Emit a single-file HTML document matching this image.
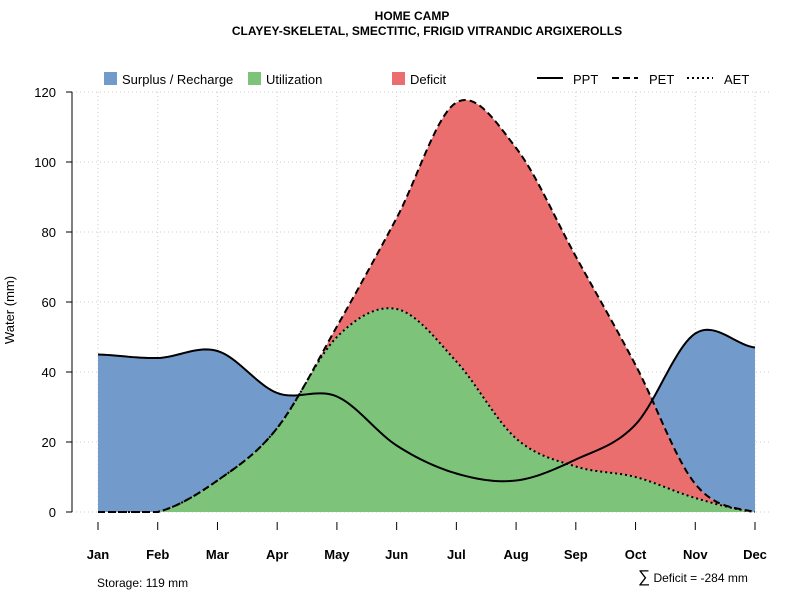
<!DOCTYPE html>
<html><head><meta charset="utf-8"><style>
body{margin:0;background:#fff;font-family:"Liberation Sans",sans-serif}
</style></head><body>
<svg id="c" width="800" height="600" xmlns="http://www.w3.org/2000/svg" font-family="Liberation Sans, sans-serif">
<text x="412" y="20" text-anchor="middle" font-size="12" font-weight="bold">HOME CAMP</text>
<text x="427" y="35" text-anchor="middle" font-size="12" font-weight="bold">CLAYEY-SKELETAL, SMECTITIC, FRIGID VITRANDIC ARGIXEROLLS</text>
<g id="grid"></g>
<g id="areas"></g>
<g id="lines"></g>
<g id="axes"></g>
<g font-size="13">
<rect x="104" y="72" width="13" height="13" fill="#729ACA"/>
<text x="122" y="84">Surplus / Recharge</text>
<rect x="248" y="72" width="13" height="13" fill="#7DC47A"/>
<text x="266" y="84">Utilization</text>
<rect x="392" y="72" width="13" height="13" fill="#EB6E6E"/>
<text x="410" y="84">Deficit</text>
<line x1="537" y1="78" x2="563" y2="78" stroke="#000" stroke-width="2"/>
<text x="573" y="84">PPT</text>
<line x1="612" y1="78" x2="638" y2="78" stroke="#000" stroke-width="2" stroke-dasharray="7,4"/>
<text x="649" y="84">PET</text>
<line x1="687" y1="78" x2="713" y2="78" stroke="#000" stroke-width="2" stroke-dasharray="2,3"/>
<text x="724" y="84">AET</text>
</g>
<text x="14" y="310" font-size="13" text-anchor="middle" transform="rotate(-90 14 310)">Water (mm)</text>
<text x="97" y="587" font-size="12">Storage: 119 mm</text>
<text x="638" y="582" font-size="12"><tspan font-size="17">∑</tspan> Deficit = -284 mm</text>
</svg>
<script>
const months=["Jan","Feb","Mar","Apr","May","Jun","Jul","Aug","Sep","Oct","Nov","Dec"];
const ppt=[45,44,46,34,33,19,11,9,15,25,51,47];
const pet=[0,0,9,24,53,84,117,104,73,42,8,0];
const aet=[0,0,9,24,50,58,43,21,13,10,4,0];
const yTicks=[0,20,40,60,80,100,120];
const NS="http://www.w3.org/2000/svg";
const X=i=>98+i*(755-98)/11, Y=v=>512-v*3.5;
function mk(t,a,p){const e=document.createElementNS(NS,t);for(const k in a)e.setAttribute(k,a[k]);p.appendChild(e);return e;}
function smooth(arr){const out=[];const n=arr.length;for(let i=0;i<n-1;i++){const p0=arr[Math.max(0,i-1)],p1=arr[i],p2=arr[i+1],p3=arr[Math.min(n-1,i+2)];for(let s=0;s<20;s++){const t=s/20,t2=t*t,t3=t2*t;out.push([i+t,0.5*((2*p1)+(-p0+p2)*t+(2*p0-5*p1+4*p2-p3)*t2+(-p0+3*p1-3*p2+p3)*t3)]);}}out.push([n-1,arr[n-1]]);return out.map(([x,v])=>[x,Math.max(0,v)]);}
const sP=smooth(ppt),sE=smooth(pet),sA=smooth(aet).map((p,i)=>[p[0],Math.min(p[1],sE[i][1])]);
const grid=document.getElementById('grid'),areas=document.getElementById('areas'),lines=document.getElementById('lines'),axes=document.getElementById('axes');
yTicks.forEach(v=>{const l=mk('line',{x1:72,x2:772,y1:Y(v),y2:Y(v),stroke:'#ccc','stroke-dasharray':'1,3'},grid);});
months.forEach((m,i)=>{const l=mk('line',{x1:X(i),x2:X(i),y1:92,y2:512,stroke:'#ccc','stroke-dasharray':'1,3'},grid);});
function band(lo,hi,fill,name){let d='M'+hi.map(p=>X(p[0])+','+Y(p[1])).join('L');for(let i=lo.length-1;i>=0;i--)d+='L'+X(lo[i][0])+','+Y(lo[i][1]);const e=mk('path',{d:d+'Z',fill:fill},areas);}
band(sE,sP.map((p,i)=>[p[0],Math.max(p[1],sE[i][1])]),'#729ACA','surplus-area');
band(sA,sE,'#EB6E6E','deficit-area');
band(sA.map(p=>[p[0],0]),sA,'#7DC47A','utilization-area');
function line(s,dash,name){const e=mk('path',{d:'M'+s.map(p=>X(p[0])+','+Y(p[1])).join('L'),fill:'none',stroke:'#000','stroke-width':2,'stroke-dasharray':dash},lines);}
line(sP,'none','ppt-line');line(sE,'7,4','pet-line');line(sA,'2,3','aet-line');
mk('line',{x1:72,x2:72,y1:92,y2:512,stroke:'#000'},axes);
yTicks.forEach(v=>{mk('line',{x1:66,x2:72,y1:Y(v),y2:Y(v),stroke:'#000'},axes);const t=mk('text',{x:56,y:Y(v)+5,'text-anchor':'end','font-size':13},axes);t.textContent=v;});
months.forEach((m,i)=>{mk('line',{x1:X(i),x2:X(i),y1:522,y2:530,stroke:'#000'},axes);const t=mk('text',{x:X(i),y:559,'text-anchor':'middle','font-size':13,'font-weight':'bold'},axes);t.textContent=m;});
</script>
</body></html>
